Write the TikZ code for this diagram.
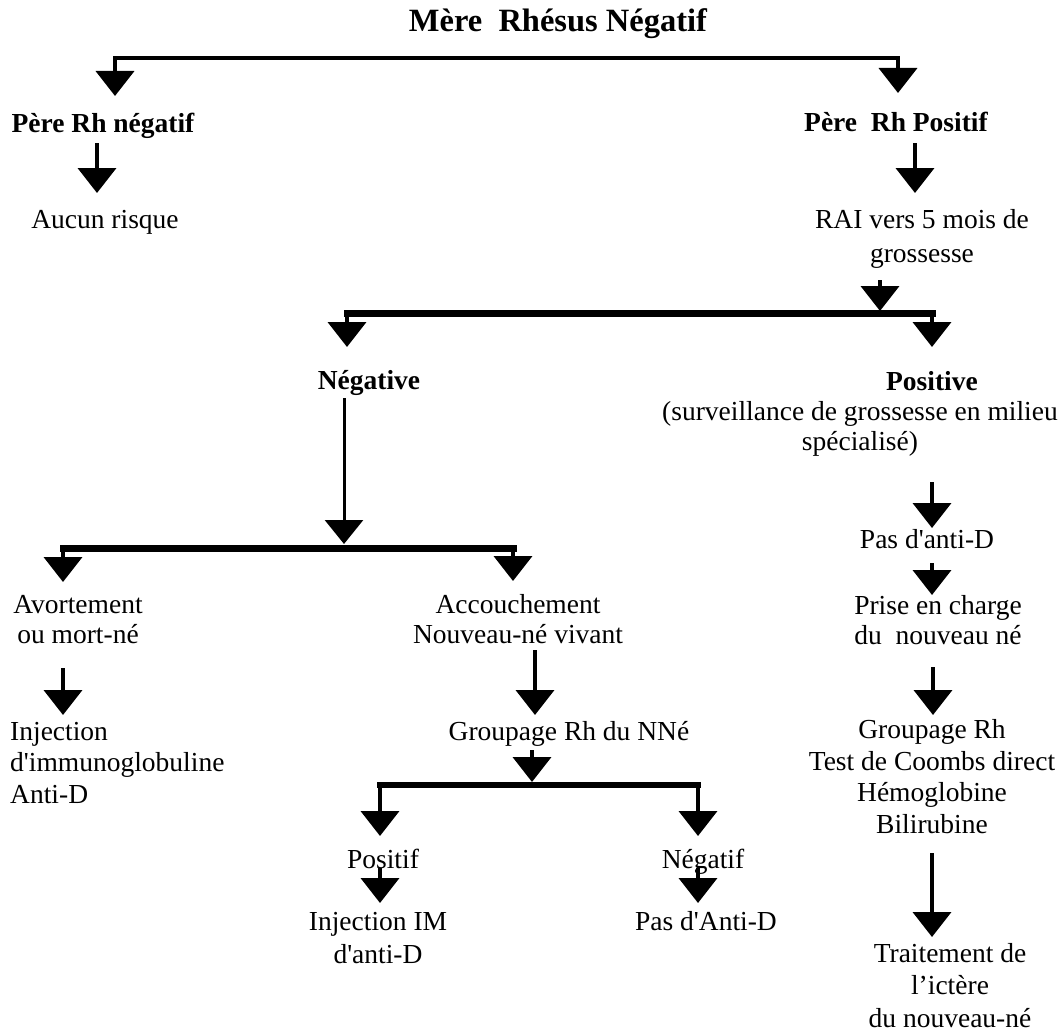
\documentclass[tikz,border=0pt]{standalone}
\usepackage{fontspec}
\setmainfont{Liberation Serif}[Ligatures=TeXOff]
\usetikzlibrary{arrows.meta}
\begin{document}
\begin{tikzpicture}[x=1pt,y=-1pt,
  txt/.style={inner sep=0pt, anchor=base, align=center, font=\fontsize{27.5}{31.5}\selectfont},
  txtb/.style={txt, font=\fontsize{27.5}{31.5}\selectfont\bfseries},
  sk/.style={font=\fontsize{27.5}{#1}\selectfont},
  arr/.style={line width=4pt, -{Triangle[width=38pt,length=25pt]}},
  thinarr/.style={line width=3pt, -{Triangle[width=38pt,length=24pt]}},
  bar/.style={line width=7pt, line cap=rect},
  topbar/.style={line width=4pt, line cap=rect}]
\useasboundingbox (0,0) rectangle (1058,1033);

% ---- text nodes (multi-line nodes are placed at the baseline of their last line) ----
\node[txtb, font=\fontsize{32.5}{36}\selectfont\bfseries] (mere) at (558,32) {Mère\ \ Rhésus Négatif};
\node[txtb] (pneg) at (103,132) {Père Rh négatif};
\node[txtb] (ppos) at (896,131) {Père\ \ Rh Positif};
\node[txt] (aucun) at (105,228) {Aucun risque};
\node[txt, sk=34] (rai) at (922,262) {RAI vers 5 mois de\\grossesse};
\node[txtb] (neg) at (369,389) {Négative};
\node[txtb] (pos) at (932,390) {Positive};
\node[txt, sk=30] (surv) at (860,450) {(surveillance de grossesse en milieu\\spécialisé)};
\node[txt] (pasanti) at (927,548) {Pas d'anti-D};
\node[txt, sk=30] (prise) at (938,644) {Prise en charge\\du\ \ nouveau né};
\node[txt, sk=30] (avort) at (78,643) {Avortement\\ou mort-né};
\node[txt, sk=30] (accouch) at (518,643) {Accouchement\\Nouveau-né vivant};
\node[txt, align=left, anchor=base west] (inj) at (10,803) {Injection\\d'immunoglobuline\\Anti-D};
\node[txt] (grpnne) at (569,740) {Groupage Rh du NNé};
\node[txt] (grprh) at (932,833) {Groupage Rh\\Test de Coombs direct\\Hémoglobine\\Bilirubine};
\node[txt] (positif) at (383,868) {Positif};
\node[txt] (negatif) at (703,868) {Négatif};
\node[txt, sk=33] (injim) at (378,963) {Injection IM\\d'anti-D};
\node[txt] (pasAnti) at (706,930) {Pas d'Anti-D};
\node[txt, sk=32.5] (trait) at (950,1027) {Traitement de\\l’ictère\\du nouveau-né};

% ---- connector points ----
\coordinate (b1l) at (115,58);  \coordinate (b1r) at (898,58);
\coordinate (t1l) at (115,96);  \coordinate (t1r) at (898,93);
\coordinate (s2l) at (97,143);  \coordinate (t2l) at (97,193);
\coordinate (s2r) at (915,143); \coordinate (t2r) at (915,193);
\coordinate (s3) at (880,280);  \coordinate (b2m) at (880,311);
\coordinate (b2l) at (347,313); \coordinate (b2r) at (932,313);
\coordinate (t3l) at (347,347); \coordinate (t3r) at (932,347);
\coordinate (s4) at (344,398);  \coordinate (b3m) at (344,544);
\coordinate (b3l) at (63,548);  \coordinate (b3r) at (513,548);
\coordinate (t4l) at (63,582);  \coordinate (t4r) at (513,581);
\coordinate (sp1) at (932,482); \coordinate (tp1) at (932,528);
\coordinate (sp2) at (932,563); \coordinate (tp2) at (932,595);
\coordinate (sp3) at (933,667); \coordinate (tp3) at (933,715);
\coordinate (sl1) at (63,668);  \coordinate (tl1) at (63,715);
\coordinate (sm1) at (535,650); \coordinate (tm1) at (535,715);
\coordinate (sm2) at (532,750); \coordinate (b4m) at (532,782);
\coordinate (b4l) at (380,785); \coordinate (b4r) at (698,785);
\coordinate (t5l) at (380,836); \coordinate (t5r) at (698,836);
\coordinate (s6l) at (380,868); \coordinate (t6l) at (380,903);
\coordinate (s6r) at (698,868); \coordinate (t6r) at (698,903);
\coordinate (sp4) at (932,853); \coordinate (tp4) at (932,937);

% ---- bars ----
\draw[topbar] (b1l) -- (b1r);
\draw[bar] (b2l) -- (b2r);
\draw[bar] (b3l) -- (b3r);
\draw[bar, line width=6pt] (b4l) -- (b4r);

% ---- arrows ----
\draw[arr] (b1l) -- (t1l);
\draw[arr] (b1r) -- (t1r);
\draw[arr] (s2l) -- (t2l);
\draw[arr] (s2r) -- (t2r);
\draw[arr] (s3) -- (b2m);
\draw[arr] (b2l) -- (t3l);
\draw[arr] (b2r) -- (t3r);
\draw[thinarr] (s4) -- (b3m);
\draw[arr] (b3l) -- (t4l);
\draw[arr] (b3r) -- (t4r);
\draw[arr] (sp1) -- (tp1);
\draw[arr] (sp2) -- (tp2);
\draw[arr] (sp3) -- (tp3);
\draw[arr] (sl1) -- (tl1);
\draw[arr] (sm1) -- (tm1);
\draw[arr] (sm2) -- (b4m);
\draw[arr] (b4l) -- (t5l);
\draw[arr] (b4r) -- (t5r);
\draw[arr] (s6l) -- (t6l);
\draw[arr] (s6r) -- (t6r);
\draw[arr] (sp4) -- (tp4);
\end{tikzpicture}
\end{document}
